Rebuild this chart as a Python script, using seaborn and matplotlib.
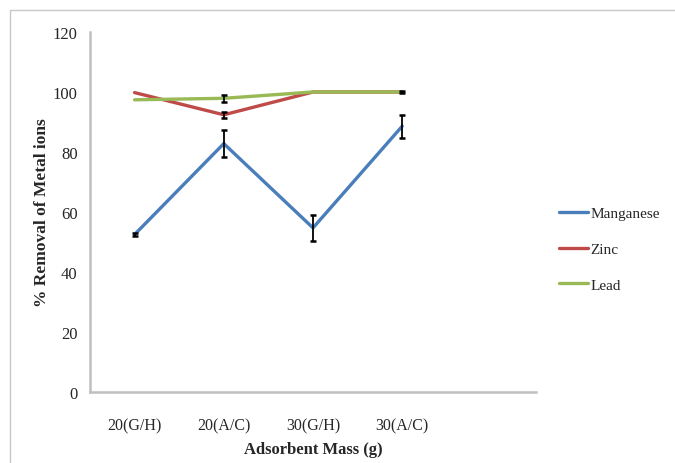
import pandas as pd
import matplotlib
matplotlib.use("Agg")
import matplotlib.pyplot as plt
from matplotlib.lines import Line2D
import seaborn as sns

# Data
masses = ["20(G/H)", "20(A/C)", "30(G/H)", "30(A/C)"]
manganese = [52.5, 82.8, 54.7, 88.6]
zinc = [99.8, 92.4, 100.0, 100.0]
lead = [97.4, 97.9, 100.0, 100.0]
manganese_err = [0.5, 4.5, 4.2, 3.9]
zinc_err = [0.0, 1.0, 0.0, 0.0]
lead_err = [0.0, 1.2, 0.0, 0.3]
metals = ["Manganese", "Zinc", "Lead"]
colors = ["#4a7ebb", "#be4b48", "#98b954"]

values = {"Manganese": manganese, "Zinc": zinc, "Lead": lead}
errors = {"Manganese": manganese_err, "Zinc": zinc_err, "Lead": lead_err}

df = pd.DataFrame([
    {"Mass": m, "Removal": v, "Metal": metal}
    for metal in metals for m, v in zip(masses, values[metal])
])

sns.set_style("white")
serif = ["Liberation Serif", "DejaVu Serif"]
plt.rcParams["font.family"] = serif

fig = plt.figure(figsize=(6.75, 4.64), dpi=100)
ax = fig.add_axes([90 / 675, 1 - 393 / 464, (536 - 90) / 675, (393 - 33) / 464])

sns.lineplot(data=df, x="Mass", y="Removal", hue="Metal", palette=colors,
             linewidth=2.4, sort=False, ax=ax, legend=False)

# only draw bars where there is an error
for metal in metals:
    pts = [(m, v, e) for m, v, e in zip(masses, values[metal], errors[metal]) if e > 0]
    xs, ys, es = zip(*pts)
    ax.errorbar(list(xs), list(ys), yerr=list(es), fmt="none",
                ecolor="black", elinewidth=1.3, capsize=2.5, capthick=1.8, zorder=5)

ax.set_xlim(-0.5, 4.5)
ax.set_ylim(0, 120)
ax.set_yticks(range(0, 121, 20))
ax.set_xticks([i - 0.5 for i in range(6)])
ax.set_xticklabels([])
ax.set_xticks(range(len(masses)), minor=True)
ax.set_xticklabels(masses, minor=True, fontsize=11.5)
ax.tick_params(axis="x", which="minor", length=0, pad=18)
ax.tick_params(axis="x", which="major", length=5, width=1.2, color="#bfbfbf", direction="out")
ax.tick_params(axis="y", length=5, width=1.2, color="#bfbfbf", direction="out",
               labelsize=12, pad=4)

for side in ["top", "right"]:
    ax.spines[side].set_visible(False)
for side in ["left", "bottom"]:
    ax.spines[side].set_color("#bfbfbf")
    ax.spines[side].set_linewidth(1.8)

ax.set_xlabel("Adsorbent Mass (g)", fontsize=12, fontweight="bold", labelpad=6)
ax.set_ylabel("% Removal of Metal ions", fontsize=12.5, fontweight="bold")
ax.yaxis.set_label_coords(-0.09, 0.5)

handles = [Line2D([0], [0], color=c, lw=2.4) for c in colors]
fig.legend(handles, metals, loc="center left", bbox_to_anchor=(545 / 675, 1 - 250 / 464),
           frameon=False, fontsize=11, handlelength=1.9, handletextpad=0.15,
           labelspacing=1.45)

# outer chart border
fig.add_artist(Line2D([10 / 675, 10 / 675], [0, 1 - 11 / 464], color="#c8c8c8", lw=1))
fig.add_artist(Line2D([10 / 675, 1], [1 - 11 / 464, 1 - 11 / 464], color="#c8c8c8", lw=1))

fig.savefig("out.png", dpi=100)
